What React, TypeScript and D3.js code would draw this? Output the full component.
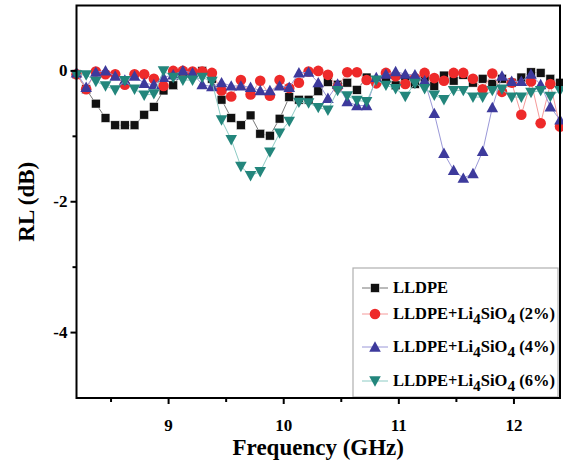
import React from "react";
import * as d3 from "d3";

const freq = [
  8.2, 8.284, 8.368, 8.452, 8.536, 8.62, 8.704, 8.788, 8.872, 8.956,
  9.04, 9.124, 9.208, 9.292, 9.376, 9.46, 9.544, 9.628, 9.712, 9.796,
  9.88, 9.964, 10.048, 10.132, 10.216, 10.3, 10.384, 10.468, 10.552, 10.636,
  10.72, 10.804, 10.888, 10.972, 11.056, 11.14, 11.224, 11.308, 11.392, 11.476,
  11.56, 11.644, 11.728, 11.812, 11.896, 11.98, 12.064, 12.148, 12.232, 12.316,
  12.4,
];

const lldpe = [
  -0.05, -0.28, -0.5, -0.72, -0.83, -0.83, -0.83, -0.67, -0.55, -0.3,
  -0.22, -0.02, -0.05, 0.0, -0.12, -0.44, -0.72, -0.83, -0.68, -0.96,
  -0.99, -0.73, -0.4, -0.44, -0.44, -0.31, -0.17, -0.21, -0.18, -0.29,
  -0.1, -0.15, -0.1, -0.22, -0.12, -0.2, -0.1, -0.23, -0.07, -0.15,
  -0.06, -0.18, -0.12, -0.2, -0.12, -0.18, -0.1, -0.02, -0.03, -0.12,
  -0.18,
];

const li2 = [
  -0.05, -0.28, -0.01, -0.05, -0.05, -0.21, -0.05, -0.05, -0.12, -0.23,
  0.0, 0.0, -0.01, -0.01, -0.03, -0.3, -0.39, -0.14, -0.36, -0.15,
  -0.38, -0.14, -0.26, -0.18, -0.01, 0.0, -0.06, -0.25, -0.02, -0.02,
  -0.14, -0.19, -0.03, -0.08, -0.2, -0.11, -0.03, -0.11, -0.15, -0.03,
  -0.03, -0.12, -0.28, -0.04, -0.32, -0.18, -0.67, -0.16, -0.8, -0.2,
  -0.85,
];

const li4 = [
  -0.03, -0.25, -0.02, 0.0, -0.08, -0.14, -0.08, -0.19, -0.21, -0.1,
  -0.06, 0.0, -0.03, -0.21, -0.24, -0.18, -0.23, -0.23, -0.25, -0.3,
  -0.3, -0.23, -0.25, -0.03, -0.02, -0.18, -0.42, -0.2, -0.47, -0.53,
  -0.53, -0.1, -0.05, -0.01, -0.05, -0.06, -0.15, -0.65, -1.26, -1.52,
  -1.64, -1.57, -1.23, -0.56, -0.08, -0.16, -0.16, -0.05, -0.21, -0.55,
  -0.75,
];

const li6 = [
  -0.06, -0.06, -0.16, -0.23, -0.29, -0.15, -0.28, -0.37, -0.35, 0.0,
  -0.1, -0.14, -0.14, -0.1, -0.16, -0.75, -1.05, -1.46, -1.6, -1.54,
  -1.24, -0.95, -0.77, -0.48, -0.49, -0.56, -0.6, -0.3, -0.38, -0.45,
  -0.47, -0.14, -0.22, -0.27, -0.39, -0.19, -0.27, -0.37, -0.44, -0.3,
  -0.3, -0.4, -0.4, -0.3, -0.28, -0.4, -0.4, -0.33, -0.3, -0.39,
  -0.3,
];

const xTicks = [9, 10, 11, 12];
const xMinor = [8.5, 9.5, 10.5, 11.5];
const yTicks = [0, -2, -4];
const yMinor = [-1, -3];

const seriesNames = ["LLDPE", "2%", "4%", "6%"];

type Shape = "square" | "circle" | "up" | "down";

const series: { name: string; values: number[]; shape: Shape; fill: string; line: string }[] = [
  { name: seriesNames[0], values: lldpe, shape: "square", fill: "#111111", line: "#777777" },
  { name: seriesNames[1], values: li2, shape: "circle", fill: "#ee2a2a", line: "#f59a9a" },
  { name: seriesNames[2], values: li4, shape: "up", fill: "#3d3a9c", line: "#9a98d8" },
  { name: seriesNames[3], values: li6, shape: "down", fill: "#23867c", line: "#8ccbc4" },
];

const W = 563;
const H = 460;
const left = 76.5;
const right = 560;
const top = 5.5;
const bottom = 398;

const FONT = "'Liberation Serif'";

function Marker({ shape, x, y, fill }: { shape: Shape; x: number; y: number; fill: string }) {
  if (shape === "square") {
    return <rect x={x - 4.4} y={y - 4.4} width={8.8} height={8.8} fill={fill} stroke="#ffffff" strokeWidth={0.5} />;
  }
  if (shape === "circle") {
    return <circle cx={x} cy={y} r={5.3} fill={fill} />;
  }
  const s = 5.8;
  const p =
    shape === "up"
      ? `M${x},${y - s} L${x + s},${y + s * 0.8} L${x - s},${y + s * 0.8} Z`
      : `M${x},${y + s} L${x + s},${y - s * 0.8} L${x - s},${y - s * 0.8} Z`;
  return <path d={p} fill={fill} />;
}

export default function App() {
  const x = d3.scaleLinear().domain([8.2, 12.4]).range([left, right]);
  const y = d3.scaleLinear().domain([-5, 1]).range([bottom, top]);

  const line = d3
    .line<number>()
    .x((_, i) => x(freq[i]))
    .y((d) => y(d));

  const legendX = 353;
  const legendY = 268;
  const legendRows = [288, 314, 347, 381];
  const textStyle = { fontFamily: FONT, fontWeight: 700 };

  return (
    <svg
      width={W}
      height={H}
      style={{ position: "absolute", left: 0, top: 0, background: "#fff", fontFamily: FONT, fontWeight: 700 }}
    >
      <rect x={0} y={0} width={W} height={H} fill="#fff" />
      {/* series */}
      {series.map((s) => (
        <g key={s.name}>
          <path d={line(s.values) || ""} fill="none" stroke={s.line} strokeWidth={1} />
          {s.values.map((v, i) => (
            <Marker key={i} shape={s.shape} x={x(freq[i])} y={y(v)} fill={s.fill} />
          ))}
        </g>
      ))}

      {/* legend */}
      <rect
        x={legendX}
        y={legendY}
        width={right - legendX - 2}
        height={bottom - legendY - 1}
        fill="#fff"
        stroke="#b0b0b0"
        strokeWidth={1.2}
      />
      {series.map((s, k) => {
        const ly = legendRows[k];
        return (
          <g key={"lg" + s.name}>
            <line x1={362} x2={388} y1={ly} y2={ly} stroke={s.line} strokeWidth={1} />
            <Marker shape={s.shape} x={375} y={ly} fill={s.fill} />
            {k === 0 ? (
              <text x={393} y={ly + 5} fontSize={16.5} style={textStyle}>
                LLDPE
              </text>
            ) : (
              <text x={393} y={ly + 5} fontSize={16.5} style={textStyle}>
                LLDPE+Li
                <tspan fontSize={15.5} dy={5}>4</tspan>
                <tspan dy={-5}>SiO</tspan>
                <tspan fontSize={15.5} dy={5}>4</tspan>
                <tspan dy={-5}> ({s.name})</tspan>
              </text>
            )}
          </g>
        );
      })}

      {/* frame */}
      <rect x={left} y={top} width={right - left} height={bottom - top} fill="none" stroke="#000" strokeWidth={2} />

      {/* x ticks */}
      {xTicks.map((t) => (
        <g key={"xt" + t}>
          <line x1={x(t)} x2={x(t)} y1={bottom} y2={bottom + 6} stroke="#000" strokeWidth={2} />
          <text x={x(t)} y={431} fontSize={17} textAnchor="middle" style={textStyle}>
            {t}
          </text>
        </g>
      ))}
      {xMinor.map((t) => (
        <line key={"xm" + t} x1={x(t)} x2={x(t)} y1={bottom} y2={bottom + 4} stroke="#000" strokeWidth={2} />
      ))}

      {/* y ticks */}
      {yTicks.map((t) => (
        <g key={"yt" + t}>
          <line x1={left - 6} x2={left} y1={y(t)} y2={y(t)} stroke="#000" strokeWidth={2} />
          <text x={left - 9} y={y(t) + 5.5} fontSize={17} textAnchor="end" style={textStyle}>
            {t === 0 ? "0" : `-${Math.abs(t)}`}
          </text>
        </g>
      ))}
      {yMinor.map((t) => (
        <line key={"ym" + t} x1={left - 4} x2={left} y1={y(t)} y2={y(t)} stroke="#000" strokeWidth={2} />
      ))}

      {/* axis titles */}
      <text x={(left + right) / 2} y={455} fontSize={23} textAnchor="middle" style={textStyle}>
        Frequency (GHz)
      </text>
      <text
        transform={`translate(34, ${(top + bottom) / 2}) rotate(-90)`}
        fontSize={23}
        textAnchor="middle"
        style={textStyle}
      >
        RL (dB)
      </text>
    </svg>
  );
}
